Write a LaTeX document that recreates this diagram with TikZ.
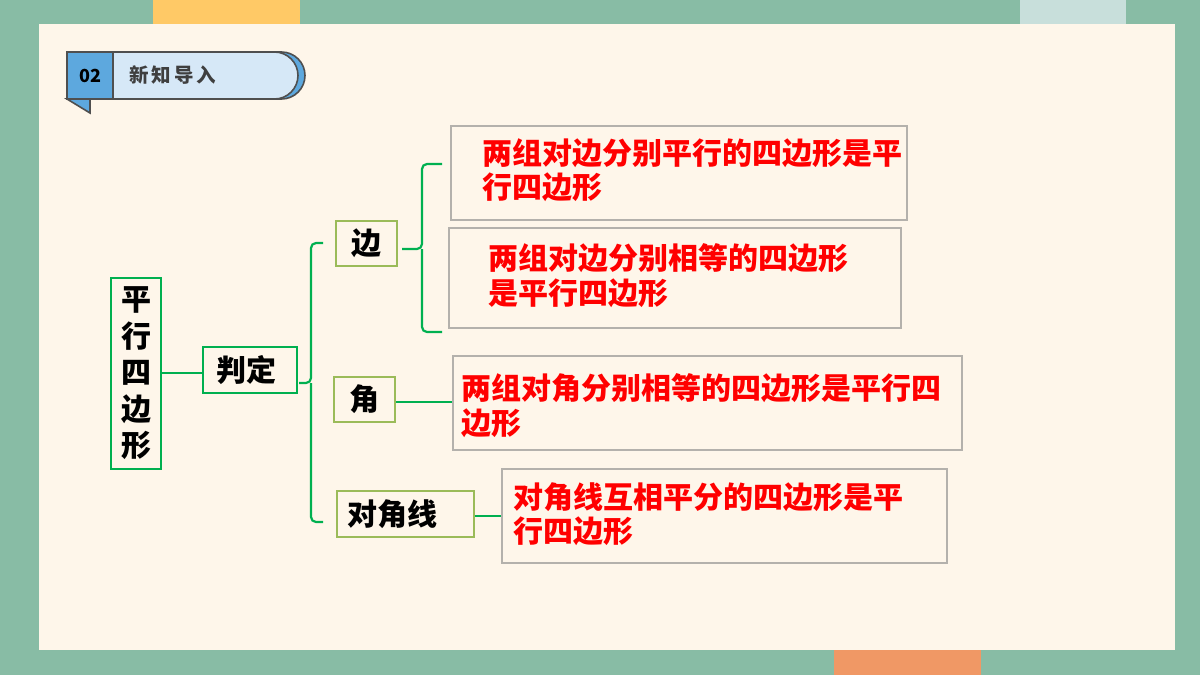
\documentclass[tikz,border=0pt]{standalone}
\usepackage{fontspec}
\setmainfont{Noto Sans CJK SC}
\definecolor{bgteal}{HTML}{88BCA5}
\definecolor{creamfill}{HTML}{FEF6EA}
\definecolor{barYellow}{HTML}{FFC966}
\definecolor{barLight}{HTML}{C8DFDB}
\definecolor{barOrange}{HTML}{F09865}
\definecolor{hblue}{HTML}{5DA8DE}
\definecolor{hlight}{HTML}{D6E8F7}
\definecolor{hdark}{HTML}{4F4F4F}
\definecolor{glineC}{HTML}{00B050}
\definecolor{lgreen}{HTML}{9BBB59}
\definecolor{gborder}{HTML}{B4B1AC}
\definecolor{rtext}{HTML}{FF0000}
\begin{document}
\begin{tikzpicture}[x=1pt,y=-1pt,
  gbox/.style={draw=glineC,line width=2.2pt,inner sep=0pt,align=center,font=\fontsize{30}{36.5}\selectfont\bfseries},
  lbox/.style={draw=lgreen,line width=2.2pt,inner sep=0pt,align=center,font=\fontsize{30}{34}\selectfont\bfseries},
  graybox/.style={draw=gborder,line width=2.2pt,inner sep=0pt},
  redtxt/.style={anchor=west,inner sep=0pt,align=left,text=rtext,font=\fontsize{30}{34.5}\selectfont\bfseries},
  conn/.style={draw=glineC,line width=2.2pt},
  brace/.style={draw=glineC,line width=2.2pt,rounded corners=5pt},
  hdr/.style={draw=hdark,line width=1.6pt}]
\useasboundingbox (0,0) rectangle (1200,675);
\fill[bgteal] (0,0) rectangle (1200,675);
\fill[barYellow] (153,0) rectangle (300,24);
\fill[barLight] (1020,0) rectangle (1126,24);
\fill[barOrange] (834,650) rectangle (981,675);
\fill[creamfill] (39,24) rectangle (1175,650);
% header
\draw[hdr,fill=hblue] (67,99) -- (90,99) -- (90,113) -- cycle;
\draw[hdr,fill=hblue] (113,52) [rounded corners=23.5pt] -- (305,52) -- (305,99) [sharp corners] -- (113,99) -- cycle;
\draw[hdr,fill=hlight] (113,52) [rounded corners=23.5pt] -- (298,52) -- (298,99) [sharp corners] -- (113,99) -- cycle;
\node[hdr,fill=hblue,minimum width=46,minimum height=47,inner sep=0pt,font=\fontsize{18}{20}\selectfont\bfseries] (num) at (90,75.5) {02};
\node[anchor=west,inner sep=0pt,text=hdark!80!black,font=\fontsize{19.5}{22}\selectfont\bfseries\addfontfeatures{LetterSpace=15}] (title) at (129,75.5) {新知导入};
% main nodes
\node[gbox,minimum width=50,minimum height=191] (pxs) at (136,373.5) {平\\行\\四\\边\\形};
\node[gbox,minimum width=94,minimum height=46] (pd) at (250,370) {\hspace*{-8pt}判定};
\node[lbox,minimum width=61,minimum height=45] (bian) at (366.5,243.5) {边};
\node[lbox,minimum width=61,minimum height=45] (jiao) at (364.5,399.5) {角};
\node[lbox,minimum width=137,minimum height=46] (djx) at (405.5,514) {对角线\hspace*{26pt}};
% gray boxes
\node[graybox,minimum width=456,minimum height=94] (b1) at (679,173) {};
\node[graybox,minimum width=452,minimum height=100] (b2) at (675,278) {};
\node[graybox,minimum width=509,minimum height=94] (b3) at (707.5,403) {};
\node[graybox,minimum width=445,minimum height=94] (b4) at (724.5,516) {};
\node[redtxt] (t1) at (482,170) {两组对边分别平行的四边形是平\\行四边形};
\node[redtxt] (t2) at (488,275.5) {两组对边分别相等的四边形\\是平行四边形};
\node[redtxt] (t3) at (461,405.5) {两组对角分别相等的四边形是平行四\\边形};
\node[redtxt] (t4) at (513,514) {对角线互相平分的四边形是平\\行四边形};
% connectors
\draw[conn] (pxs.east |- 0,373) -- (pd.west |- 0,373);
\coordinate (tipA) at (299,383);
\coordinate (topA) at (323,243);
\coordinate (botA) at (323,522);
\draw[brace] (topA) -- (311,243) -- (311,383) -- (tipA);
\draw[brace] (botA) -- (311,522) -- (311,383);
\coordinate (tipB) at (402,249);
\coordinate (topB) at (442,164);
\coordinate (botB) at (442,332);
\draw[brace] (topB) -- (422,164) -- (422,249) -- (tipB);
\draw[brace] (botB) -- (422,332) -- (422,249);
\draw[conn] (jiao.east |- 0,402) -- (b3.west |- 0,402);
\draw[conn] (djx.east |- 0,516) -- (b4.west |- 0,516);
\end{tikzpicture}
\end{document}
